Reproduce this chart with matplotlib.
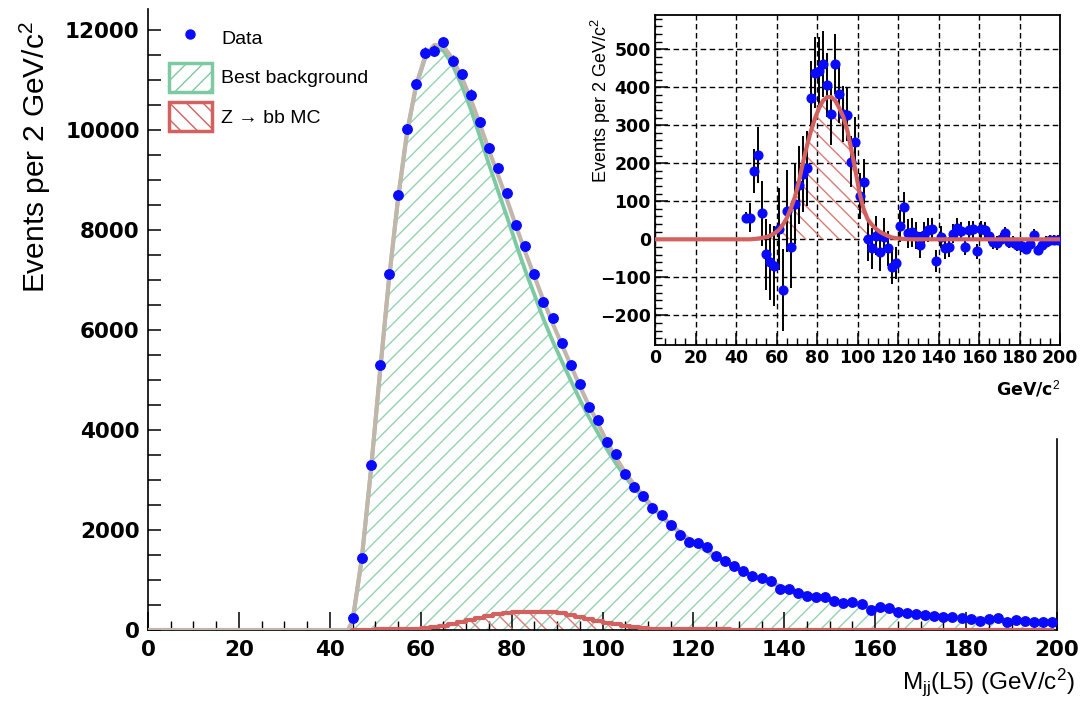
import numpy as np
import matplotlib
matplotlib.use("Agg")
import matplotlib.pyplot as plt
from matplotlib.patches import Patch
from matplotlib.lines import Line2D
from matplotlib.ticker import MultipleLocator

plt.rcParams['font.family'] = ['Liberation Sans', 'DejaVu Sans']
plt.rcParams['mathtext.fontset'] = 'custom'
plt.rcParams['mathtext.rm'] = 'Liberation Sans'
plt.rcParams['mathtext.it'] = 'Liberation Sans:italic'
plt.rcParams['mathtext.bf'] = 'Liberation Sans:bold'
plt.rcParams['hatch.linewidth'] = 1.0

# --- data (2 GeV bins, centres 45 ... 199) ---
x_lo, x_hi = 0, 200
fit_start = 44
centers = np.arange(45, 200, 2)

data_main = [235, 1440, 3300, 5310, 7120, 8710, 10020, 10920, 11550, 11590,
             11760, 11390, 11120, 10710, 10165, 9635, 9246, 8744, 8107, 7672,
             7116, 6553, 6231, 5742, 5293, 4911, 4469, 4201, 3752, 3525,
             3116, 2861, 2680, 2446, 2291, 2100, 1910, 1765, 1735, 1668,
             1487, 1373, 1273, 1173, 1085, 1039, 971, 824, 824, 750,
             690, 670, 670, 583, 536, 556, 516, 402, 456, 436,
             368, 348, 322, 302, 288, 268, 255, 248, 221, 188,
             221, 235, 168, 201, 181, 168, 154, 154]

total_fit = [180, 1400, 3150, 5120, 7000, 8620, 9960, 10900, 11480, 11700,
             11680, 11420, 11060, 10620, 10120, 9600, 9100, 8600, 8070, 7560,
             7080, 6590, 6140, 5720, 5300, 4880, 4490, 4130, 3760, 3440,
             3150, 2900, 2680, 2470, 2280, 2110, 1960, 1820, 1700, 1590,
             1480, 1365, 1265, 1175, 1090, 1015, 945, 880, 820, 765,
             715, 668, 625, 585, 548, 513, 482, 452, 425, 400,
             376, 354, 334, 315, 297, 281, 266, 252, 239, 227,
             216, 206, 196, 187, 179, 171, 164, 157]

# Z -> bb MC template shown in the main panel
sig_mc = [0, 0, 0, 15, 15, 15, 15, 15, 40, 60,
          90, 120, 160, 200, 240, 280, 315, 340, 360, 368,
          370, 368, 355, 335, 305, 270, 230, 190, 150, 115,
          85, 60, 35, 15, 15, 15, 15, 15, 15, 15,
          15, 15] + [0] * 36

# inset: data minus best background, and the fitted Z -> bb shape
resid = [57, 57, 180, 222, 68, -39, -60, -70, 27, -133,
         75, -21, 92, 143, 172, 187, 373, 438, 442, 461,
         406, 330, 461, 382, 330, 328, 204, 257, 114, 152,
         0, -24, 10, -33, 7, -24, -74, -63, 35, 84,
         16, 18, 10, -15, 12, 25, 26, -56, 5, -24,
         -20, 15, 29, 22, -19, 25, 26, -32, 26, 25,
         10, -6, -10, 0, 16, -6, -8, -15, -18, -26,
         -12, 11, -28, -15, -6, -2, -2, -2]

sig_fit = [0, 0, 1, 2, 4, 6, 10, 16, 24, 37,
           55, 80, 110, 150, 200, 245, 285, 318, 345, 365,
           374, 374, 365, 345, 322, 286, 235, 180, 122, 80,
           53, 39, 28, 20, 14, 9, 5, 3, 2, 1] + [0] * 38

blue = '#0a0aff'
grey = '#c2b6aa'
green = '#7cc9a2'
green_hatch = '#93d3b2'
red = '#d2615f'
red_hatch = '#dd7a78'

data_main = np.array(data_main, dtype=float)
total_fit = np.array(total_fit, dtype=float)
sig_mc = np.array(sig_mc, dtype=float)
bkg = total_fit - sig_mc

fig = plt.figure(figsize=(10.83, 7.17), dpi=100)

# ---------------- main panel ----------------
ax = fig.add_axes([148 / 1083, 87 / 717, 909 / 1083, 621 / 717])
ax.set_xlim(x_lo, x_hi)
ax.set_ylim(0, 12420)

ax.fill_between(centers, 0, bkg, facecolor='none', edgecolor=green_hatch,
                hatch='//', linewidth=0, zorder=1)
ax.fill_between(centers, 0, sig_mc, step='mid', facecolor='none',
                edgecolor=red_hatch, hatch='\\\\', linewidth=0, zorder=2)
ax.plot(centers, bkg, color=green, lw=2.8, zorder=3)
ax.plot(np.r_[x_lo, fit_start, centers], np.r_[0, 0, total_fit],
        color=grey, lw=3, zorder=4)
ax.step(centers, sig_mc, where='mid', color=red, lw=3, zorder=4)
ax.errorbar(centers, data_main, yerr=np.sqrt(data_main), fmt='o',
            color=blue, ecolor='black', elinewidth=1.0, ms=6.8,
            capsize=0, zorder=5)

ax.spines['top'].set_visible(False)
ax.spines['right'].set_bounds(0, 3820)
for s in ['left', 'bottom', 'right']:
    ax.spines[s].set_linewidth(1.2)

ax.xaxis.set_major_locator(MultipleLocator(20))
ax.xaxis.set_minor_locator(MultipleLocator(5))
ax.yaxis.set_major_locator(MultipleLocator(2000))
ax.yaxis.set_minor_locator(MultipleLocator(500))
ax.tick_params(axis='x', which='major', direction='in', length=13, width=1.1,
               pad=7, labelsize=15.5)
ax.tick_params(axis='x', which='minor', direction='in', length=6.5, width=1.0)
ax.tick_params(axis='y', which='both', direction='in', length=9.5, width=1.1,
               pad=6, labelsize=15.5)
ax.tick_params(right=False, top=False, which='both')
for lab in ax.get_xticklabels() + ax.get_yticklabels():
    lab.set_fontweight('bold')
    lab.set_family(['DejaVu Sans'])

ax.set_ylabel('Events per 2 GeV/c$^{2}$', fontsize=21.5, loc='top')
ax.yaxis.set_label_coords(-0.104, 0.981)
ax.set_xlabel('M$_{\\mathrm{jj}}$(L5) (GeV/c$^{2}$)', fontsize=17.5, loc='right')
ax.xaxis.set_label_coords(1.02, -0.058)

handles = [
    Line2D([], [], marker='o', ls='none', color=blue, ms=6.5),
    Patch(facecolor='white', edgecolor=green, hatch='//', linewidth=2.5),
    Patch(facecolor='white', edgecolor=red, hatch='\\\\', linewidth=2.5),
]
ax.legend(handles, ['Data', 'Best background', 'Z \u2192 bb MC'],
          loc='upper left', bbox_to_anchor=(0.023, 0.977), frameon=False,
          fontsize=14, handlelength=2.2, handleheight=1.9, labelspacing=0.55,
          borderpad=0, borderaxespad=0, handletextpad=0.5)

# ---------------- inset ----------------
ax2 = fig.add_axes([655 / 1083, 1 - 345 / 717, 405 / 1083, 330 / 717])
ax2.set_xlim(x_lo, x_hi)
ax2.set_ylim(-278, 590)
ax2.set_facecolor('white')

ax2.xaxis.set_major_locator(MultipleLocator(20))
ax2.xaxis.set_minor_locator(MultipleLocator(5))
ax2.yaxis.set_major_locator(MultipleLocator(100))
ax2.yaxis.set_minor_locator(MultipleLocator(20))
ax2.grid(True, which='major', color='black', linestyle=(0, (4, 2.5)),
         linewidth=1.0, zorder=0)
ax2.set_axisbelow(True)

ax2.fill_between(np.r_[x_lo, centers, x_hi], 0, np.r_[0, sig_fit, 0],
                 facecolor='none', edgecolor=red_hatch, hatch='\\\\',
                 linewidth=0, zorder=1)
ax2.errorbar(centers, resid, yerr=np.sqrt(data_main), fmt='o', color=blue,
             ecolor='black', elinewidth=1.4, ms=6.3, capsize=0, zorder=3)
ax2.plot(np.r_[x_lo, centers, x_hi], np.r_[0, sig_fit, 0], color=red,
         lw=3, zorder=4)

for s in ax2.spines.values():
    s.set_linewidth(1.3)
ax2.tick_params(which='major', direction='in', length=9, width=1.1,
                labelsize=12.5, pad=3, top=False, right=False)
ax2.tick_params(which='minor', direction='in', length=5, width=1.0,
                top=False, right=False)
for lab in ax2.get_xticklabels() + ax2.get_yticklabels():
    lab.set_fontweight('bold')
    lab.set_family(['DejaVu Sans'])

ax2.set_ylabel('Events per 2 GeV/c$^{2}$', fontsize=13, loc='top')
ax2.yaxis.set_label_coords(-0.104, 0.99)
ax2.set_xlabel('GeV/c$^{2}$', fontsize=12.5, fontweight='bold', loc='right',
               family=['DejaVu Sans'])
ax2.xaxis.set_label_coords(1.0, -0.1)

fig.savefig('out.png', dpi=100)
